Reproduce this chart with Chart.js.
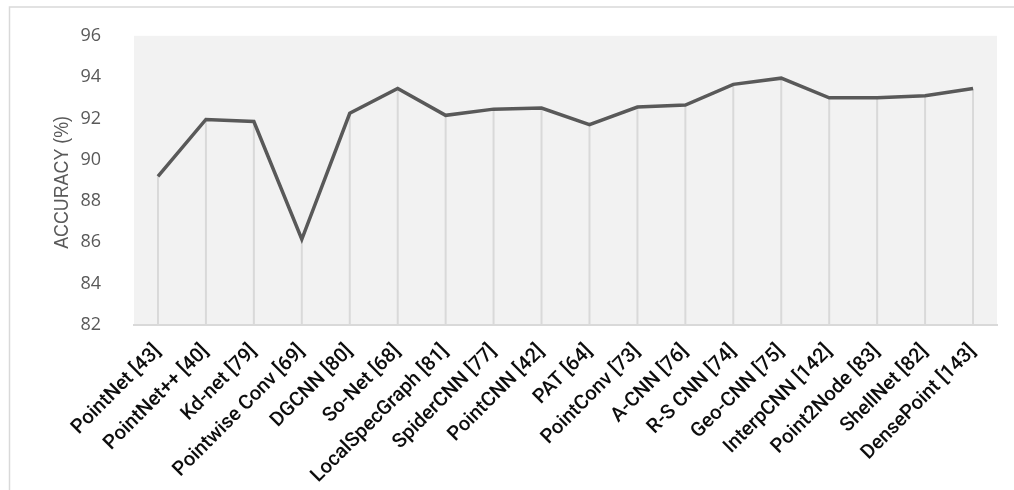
<!DOCTYPE html>
<html>
<head>
<meta charset="utf-8">
<script src="https://cdn.jsdelivr.net/npm/chart.js@4/dist/chart.umd.min.js"></script>
<style>
html,body{margin:0;padding:0;background:#fff;}
#wrap{width:1014px;height:490px;position:relative;}
</style>
</head>
<body>
<div id="wrap"><canvas id="c" width="1014" height="490"></canvas></div>
<script>
const categories = ["PointNet [43]","PointNet++ [40]","Kd-net [79]","Pointwise Conv [69]","DGCNN [80]","So-Net [68]","LocalSpecGraph [81]","SpiderCNN [77]","PointCNN [42]","PAT [64]","PointConv [73]","A-CNN [76]","R-S CNN [74]","Geo-CNN [75]","InterpCNN [142]","Point2Node [83]","ShellNet [82]","DensePoint [143]"];
const accuracy = [89.2, 91.95, 91.85, 86.15, 92.25, 93.45, 92.15, 92.45, 92.5, 91.7, 92.55, 92.65, 93.65, 93.95, 93.0, 93.0, 93.1, 93.45];
const yTicks = { min: 82, max: 96, step: 2 };
const yTitle = "ACCURACY (%)";

const framePlugin = {
  id: 'frame',
  beforeDraw(chart) {
    const ctx = chart.ctx;
    const a = chart.chartArea;
    ctx.save();
    ctx.fillStyle = '#ffffff';
    ctx.fillRect(0, 0, chart.width, chart.height);
    ctx.strokeStyle = '#d9d9d9';
    ctx.lineWidth = 1.5;
    ctx.strokeRect(9.5, 7, chart.width + 20, chart.height + 20);
    ctx.fillStyle = '#f2f2f2';
    ctx.fillRect(a.left, a.top, a.right - a.left, a.bottom - a.top);
    ctx.restore();
  },
  beforeDatasetsDraw(chart) {
    const ctx = chart.ctx;
    const a = chart.chartArea;
    const meta = chart.getDatasetMeta(0);
    ctx.save();
    ctx.strokeStyle = '#d9d9d9';
    ctx.lineWidth = 2;
    meta.data.forEach(pt => {
      ctx.beginPath();
      ctx.moveTo(pt.x, pt.y);
      ctx.lineTo(pt.x, a.bottom);
      ctx.stroke();
    });
    ctx.restore();
  },
  afterDraw(chart) {
    const ctx = chart.ctx;
    const a = chart.chartArea;
    ctx.save();
    ctx.translate(62, (a.top + a.bottom) / 2 + 2);
    ctx.rotate(-Math.PI / 2);
    ctx.scale(0.85, 1);
    ctx.fillStyle = '#595959';
    ctx.font = '21px "Liberation Sans"';
    ctx.textAlign = 'center';
    ctx.textBaseline = 'middle';
    ctx.fillText(yTitle, 0, 0);
    ctx.restore();
  }
};

new Chart(document.getElementById('c'), {
  type: 'line',
  data: {
    labels: categories,
    datasets: [{
      data: accuracy,
      borderColor: '#595959',
      borderWidth: 3.5,
      pointRadius: 0,
      tension: 0,
      fill: false
    }]
  },
  plugins: [framePlugin],
  options: {
    responsive: false,
    animation: false,
    devicePixelRatio: 1,
    layout: { padding: { top: 33, right: 17, left: 0, bottom: 0 } },
    plugins: { legend: { display: false }, tooltip: { enabled: false } },
    scales: {
      x: {
        offset: true,
        grid: { display: false },
        border: { display: true, color: '#d9d9d9', width: 2 },
        ticks: {
          autoSkip: false,
          minRotation: 45,
          maxRotation: 45,
          padding: 7,
          color: '#0d0d0d',
          font: { family: 'Roboto', size: 20, weight: '500' }
        },
        afterFit(scale) { scale.height = 165; }
      },
      y: {
        min: yTicks.min,
        max: yTicks.max,
        grid: { display: false },
        border: { display: false },
        ticks: {
          stepSize: yTicks.step,
          padding: 25,
          color: '#595959',
          font: { family: 'Open Sans', size: 18 }
        },
        afterFit(scale) { scale.width = 134; }
      }
    }
  }
});
</script>
</body>
</html>
